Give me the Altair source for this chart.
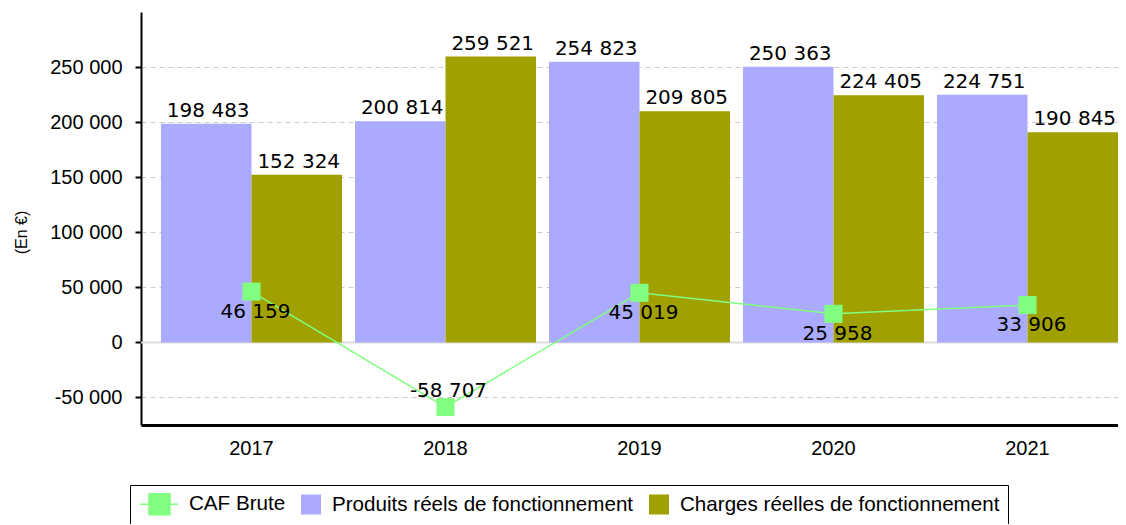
import altair as alt
import pandas as pd

years = ["2017", "2018", "2019", "2020", "2021"]
produits = [198483, 200814, 254823, 250363, 224751]
charges = [152324, 259521, 209805, 224405, 190845]
caf = [46159, -58707, 45019, 25958, 33906]

series_names = ["CAF Brute", "Produits réels de fonctionnement", "Charges réelles de fonctionnement"]
series_colors = ["#80ff80", "#aaaaff", "#a0a000"]
y_ticks = [-50000, 0, 50000, 100000, 150000, 200000, 250000]
y_title = "(En €)"

bars_df = pd.DataFrame({
    "year": years * 2,
    "series": [series_names[1]] * len(years) + [series_names[2]] * len(years),
    "value": produits + charges,
})
caf_df = pd.DataFrame({"year": years, "series": series_names[0], "value": caf})
zero_df = pd.DataFrame({"value": [0]})

fmt = "replace(replace(format(datum.value, ','), regexp(',', 'g'), ' '), '\u2212', '-')"

x_scale = alt.Scale(domain=years, paddingInner=0.067, paddingOuter=0.0515, align=1)
y_scale = alt.Scale(domain=[-75000, 300000], nice=False, zero=False)

x_enc = alt.X("year:N", scale=x_scale, title=None,
              axis=alt.Axis(labelFont="Liberation Sans", labelFontSize=20, labelColor="black",
                            labelAngle=0, ticks=False, domainColor="black", domainWidth=3,
                            labelPadding=13, grid=False))
y_enc = alt.Y("value:Q", scale=y_scale, title=y_title,
              axis=alt.Axis(values=y_ticks, labelExpr=fmt, labelFont="Liberation Sans",
                            labelFontSize=20, labelColor="black", tickColor="black", tickSize=6,
                            tickWidth=2, domainColor="black", domainWidth=2, labelPadding=13,
                            grid=True, gridColor="#cccccc", gridDash=[5, 4], gridWidth=1,
                            titleFont="Liberation Sans", titleFontSize=16, titleFontWeight="normal",
                            titleColor="black", titlePadding=20, titleY=220))

is_caf = "datum.value === 'CAF Brute'"
color_enc = alt.Color("series:N", scale=alt.Scale(domain=series_names, range=series_colors),
                      legend=alt.Legend(orient="none", legendX=-11, legendY=473, direction="horizontal",
                                        title=None, labelFont="Liberation Sans", labelFontSize=20.6,
                                        labelColor="black", labelLimit=0, symbolSize=400,
                                        symbolType={"expr": is_caf + " ? 'M-0.9,0L2.9,0M0,-1.05L2.1,-1.05L2.1,1.05L0,1.05Z' : 'square'"},
                                        symbolStrokeColor={"expr": is_caf + " ? '#80ff80' : 'transparent'"},
                                        symbolStrokeWidth=1.5,
                                        symbolOpacity=1,
                                        labelOffset={"expr": is_caf + " ? 29 : 10"},
                                        columnPadding=12, padding=8,
                                        strokeColor="black", fillColor="white"))

offset_enc = alt.XOffset("series:N", scale=alt.Scale(domain=series_names[1:], paddingInner=0, paddingOuter=0))

base_bars = alt.Chart(bars_df)

zero_rule = alt.Chart(zero_df).mark_rule(color="#dddddd", strokeWidth=2).encode(y=y_enc)

bars = base_bars.mark_bar(opacity=1).encode(x=x_enc, xOffset=offset_enc, y=y_enc, color=color_enc)

label_font = "DejaVu Sans"
bar_labels = base_bars.transform_calculate(label=fmt).mark_text(
    font=label_font, fontSize=20, baseline="bottom", dy=-3, dx=2, color="black").encode(
    x=x_enc, xOffset=offset_enc, y=y_enc, text="label:N")

base_caf = alt.Chart(caf_df)
caf_line = base_caf.mark_line(color=series_colors[0], strokeWidth=1.5).encode(x=x_enc, y=y_enc)
caf_points = base_caf.mark_point(shape="square", size=324, filled=True, opacity=1,
                                 color=series_colors[0]).encode(x=x_enc, y=y_enc)
caf_labels_pos = base_caf.transform_filter(alt.datum.value >= 0).transform_calculate(label=fmt).mark_text(
    font=label_font, fontSize=20, baseline="middle", dy=20, dx=4, color="black").encode(
    x=x_enc, y=y_enc, text="label:N")
caf_labels_neg = base_caf.transform_filter(alt.datum.value < 0).transform_calculate(label=fmt).mark_text(
    font=label_font, fontSize=20, baseline="middle", dy=-16, dx=3, color="black").encode(
    x=x_enc, y=y_enc, text="label:N")

chart = alt.layer(zero_rule, bars, bar_labels, caf_line, caf_points,
                  caf_labels_pos, caf_labels_neg).properties(
    width=977, height=413,
    background="white",
    autosize=alt.AutoSizeParams(type="none"),
    padding={"left": 133, "top": 4, "right": 0, "bottom": 99},
).configure_view(strokeWidth=0, stroke="transparent").configure_axisY(
    titleFont="Liberation Sans", titleFontSize=16, titleFontWeight="normal", titleColor="black",
    labelPadding=13, titlePadding=20)

chart.save("out.html", embed_options={"renderer": "svg", "actions": False})
